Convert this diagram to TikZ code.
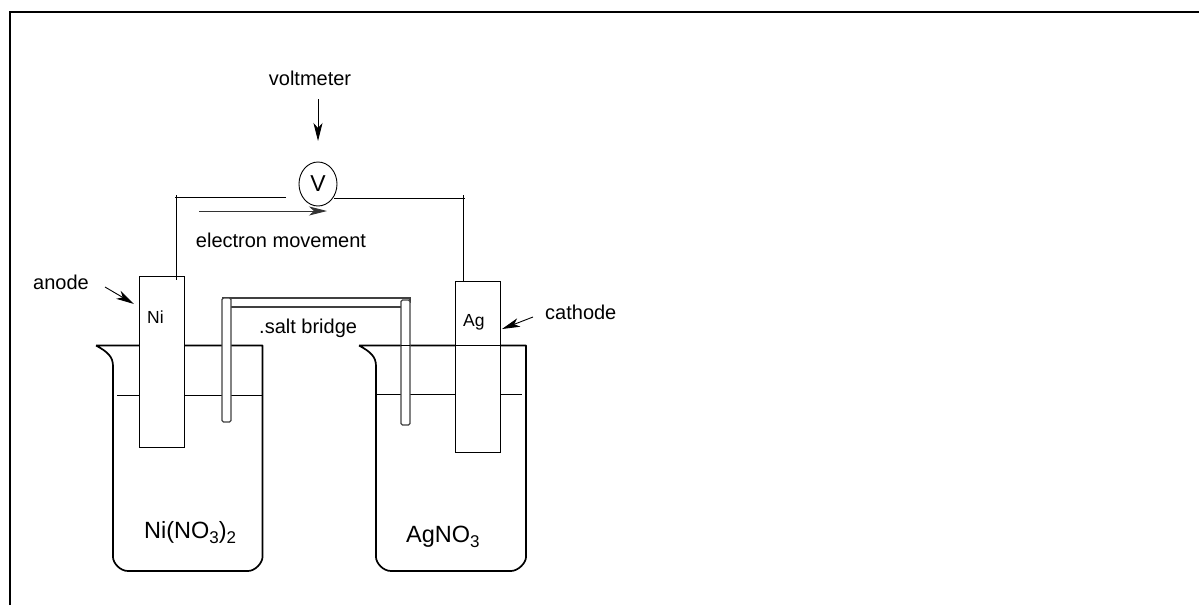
\documentclass[tikz,border=0pt]{standalone}
\usepackage{fontspec}
\setmainfont{Liberation Sans}
\usetikzlibrary{arrows.meta, positioning, shapes.geometric}
\newcommand{\lowsub}[1]{\raisebox{-5pt}{\fontsize{17}{17}\selectfont #1}}
\tikzset{
  lbl/.style={inner sep=0pt, font=\fontsize{20}{24}\selectfont},
  smalllbl/.style={inner sep=0pt, font=\fontsize{17.5}{20}\selectfont},
  chemlbl/.style={inner sep=0pt, font=\fontsize{23.5}{28}\selectfont},
  electrode/.style={draw, fill=white, line width=1pt, inner sep=0pt, minimum width=45pt, minimum height=171pt, anchor=north west},
  wire/.style={line width=1pt},
  glass/.style={line width=1.7pt, line join=round},
  bridge/.style={draw=black!75, line width=1.2pt},
  pointer/.style={-{Stealth[length=18pt,width=9pt,inset=5pt]}, line width=0.9pt},
}
\begin{document}
\begin{tikzpicture}[x=1pt, y=-1pt]
\useasboundingbox (0,0) rectangle (1199,605);
\draw[line width=2.2pt] (10,605) -- (10,12) -- (1199,12);
% beakers
\draw[glass] (96,345.5) -- (262.5,345.5) -- (262.5,557) .. controls (262.5,563) and (255,571) .. (248,571) -- (128,571) .. controls (120,571) and (113,563) .. (113,557) -- (113,366) .. controls (113,357) and (108,352) .. (96,345.5);
\draw[glass] (359,345.5) -- (526,345.5) -- (526,557) .. controls (526,563) and (518,571) .. (511,571) -- (391,571) .. controls (383,571) and (376,563) .. (376,557) -- (376,366) .. controls (376,357) and (371,352) .. (359,345.5);
% liquid levels
\draw[wire] (117,395) -- (262.5,395);
\draw[wire] (376,394.5) -- (522,394.5);
% salt bridge
\draw[bridge] (222,298) -- (410,298) -- (410,303);
\draw[bridge] (231,307) -- (401,307);
\draw[bridge, fill=white, rounded corners=1.5pt] (222,298) rectangle (231,422);
\draw[bridge, fill=white, rounded corners=1.5pt] (401,300) rectangle (410,425);
\draw[glass] (401,345.5) -- (410,345.5);
% electrodes
\node[electrode] (ni) at (139,276) {};
\node[electrode] (ag) at (455,281) {};
\draw[glass] (455,345.5) -- (500,345.5);
\node[smalllbl, anchor=west] (nilbl) at (147,317) {Ni};
\node[smalllbl, anchor=west] (aglbl) at (463,322) {Ag};
% voltmeter and wires
\node[draw, ellipse, line width=0.9pt, inner sep=0pt, minimum width=38pt, minimum height=44pt, font=\fontsize{23}{24}\selectfont] (vm) at (318,184) {V};
\coordinate (wl) at (286,197);
\coordinate (wla) at (176,197);
\coordinate (wr) at (334,198);
\coordinate (wra) at (463,198);
\draw[wire] (wl) -- (175,197);
\draw[wire] (176,195) -- (176,280);
\draw[wire] (wr) -- (465,198);
\draw[wire] (463,195) -- (ag.north -| wra);
% labels
\node[lbl] (vlbl) at (310,78) {voltmeter};
\node[lbl] (elbl) at (281,240) {electron movement};
\node[lbl, anchor=west] (anlbl) at (33,282) {anode};
\node[lbl, anchor=west] (calbl) at (545,312) {cathode};
\node[lbl, anchor=west] (sblbl) at (259,328) {.salt bridge};
\node[chemlbl, anchor=west] (nisol) at (144,533) {Ni(NO\lowsub{3})\lowsub{2}};
\node[chemlbl, anchor=west] (agsol) at (406,537) {AgNO\lowsub{3}};
% arrows
\coordinate (vs) at (318,99);
\coordinate (ve) at (318,141);
\draw[pointer] (vs) -- (ve);
\coordinate (es) at (199,211);
\coordinate (ee) at (327,211);
\draw[pointer, draw=black!80] (es) -- (ee);
\coordinate (as) at (105,287);
\coordinate (ae) at (134,304);
\draw[pointer] (as) -- (ae);
\coordinate (cs) at (533,317);
\coordinate (ce) at (502,329);
\draw[pointer] (cs) -- (ce);
\end{tikzpicture}
\end{document}
